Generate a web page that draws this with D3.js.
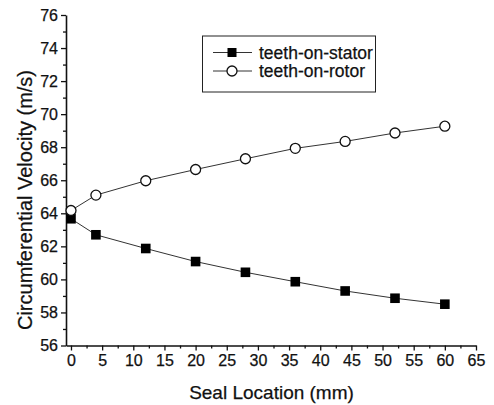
<!DOCTYPE html>
<html>
<head>
<meta charset="utf-8">
<script src="https://cdn.jsdelivr.net/npm/d3@7"></script>
<style>
  body { margin: 0; background: #fff; }
  svg text { font-family: "Liberation Sans", Arial, sans-serif; fill: #111; stroke: #111; stroke-width: 0.25px; }
</style>
</head>
<body>
<svg id="chart" width="494" height="405"></svg>
<script>
// data
var seal_location = [0, 4, 12, 20, 28, 36, 44, 52, 60];
var teeth_on_stator = [63.67, 62.7, 61.87, 61.08, 60.43, 59.86, 59.3, 58.86, 58.5];
var teeth_on_rotor = [64.17, 65.1, 65.97, 66.65, 67.3, 67.93, 68.35, 68.86, 69.27];
var x_ticks = [0, 5, 10, 15, 20, 25, 30, 35, 40, 45, 50, 55, 60, 65];
var y_ticks = [56, 58, 60, 62, 64, 66, 68, 70, 72, 74, 76];

var svg = d3.select("#chart");

var x = d3.scaleLinear().domain([-0.8, 65]).range([66, 476]);
var y = d3.scaleLinear().domain([56, 76]).range([345.5, 15]);

// minor ticks
var x_minor = x_ticks.slice(0, -1).map(function(d) { return d + 2.5; });
var y_minor = y_ticks.slice(0, -1).map(function(d) { return d + 1; });

svg.append("g")
  .attr("transform", "translate(0," + y(56) + ")")
  .call(d3.axisBottom(x).tickValues(x_minor).tickSize(3).tickFormat(""))
  .call(function(g) { g.select(".domain").remove(); });

svg.append("g")
  .attr("transform", "translate(" + x.range()[0] + ",0)")
  .call(d3.axisLeft(y).tickValues(y_minor).tickSize(3).tickFormat(""))
  .call(function(g) { g.select(".domain").remove(); });

var xAxis = svg.append("g")
  .attr("transform", "translate(0," + y(56) + ")")
  .call(d3.axisBottom(x).tickValues(x_ticks).tickSize(5).tickSizeOuter(0).tickPadding(4));

var yAxis = svg.append("g")
  .attr("transform", "translate(" + x.range()[0] + ",0)")
  .call(d3.axisLeft(y).tickValues(y_ticks).tickSize(5).tickSizeOuter(0).tickPadding(3));

svg.selectAll(".tick line").attr("stroke", "#111").attr("stroke-width", 1.3);
svg.selectAll(".domain").attr("stroke", "#111").attr("stroke-width", 1.6);
svg.selectAll(".tick text").style("font-size", "16px").attr("fill", "#111");

// axis titles
svg.append("text")
  .attr("x", (x(0) + x(65)) / 2 - 2)
  .attr("y", 399)
  .attr("text-anchor", "middle")
  .style("font-size", "19px")
  .text("Seal Location (mm)");

svg.append("text")
  .attr("transform", "translate(32," + 200 + ") rotate(-90)")
  .attr("text-anchor", "middle")
  .style("font-size", "20px")
  .text("Circumferential Velocity (m/s)");

// series
var line = d3.line()
  .x(function(d) { return x(d[0]); })
  .y(function(d) { return y(d[1]); });

var stator = d3.zip(seal_location, teeth_on_stator);
var rotor = d3.zip(seal_location, teeth_on_rotor);

svg.append("path").datum(stator)
  .attr("d", line).attr("fill", "none").attr("stroke", "#333").attr("stroke-width", 1);
svg.append("path").datum(rotor)
  .attr("d", line).attr("fill", "none").attr("stroke", "#333").attr("stroke-width", 1);

svg.selectAll(".sq").data(stator).enter().append("rect")
  .attr("class", "sq")
  .attr("x", function(d) { return x(d[0]) - 4.8; })
  .attr("y", function(d) { return y(d[1]) - 4.8; })
  .attr("width", 9.6).attr("height", 9.6)
  .attr("fill", "#000");

svg.selectAll(".ci").data(rotor).enter().append("circle")
  .attr("class", "ci")
  .attr("cx", function(d) { return x(d[0]); })
  .attr("cy", function(d) { return y(d[1]); })
  .attr("r", 5)
  .attr("fill", "#fff").attr("stroke", "#111").attr("stroke-width", 1.3);

// legend
var legend = svg.append("g");
legend.append("rect")
  .attr("x", 202.5).attr("y", 36).attr("width", 173).attr("height", 56)
  .attr("fill", "#fff").attr("stroke", "#222").attr("stroke-width", 1);

var rows = [
  { name: "teeth-on-stator", y: 52.5, shape: "square" },
  { name: "teeth-on-rotor", y: 71, shape: "circle" }
];
rows.forEach(function(r) {
  legend.append("line")
    .attr("x1", 213).attr("x2", 252).attr("y1", r.y).attr("y2", r.y)
    .attr("stroke", "#333").attr("stroke-width", 1);
  if (r.shape == "square") {
    legend.append("rect").attr("x", 232 - 4.5).attr("y", r.y - 4.5)
      .attr("width", 9).attr("height", 9).attr("fill", "#000");
  } else {
    legend.append("circle").attr("cx", 232).attr("cy", r.y).attr("r", 5)
      .attr("fill", "#fff").attr("stroke", "#111").attr("stroke-width", 1.3);
  }
  legend.append("text")
    .attr("x", 259).attr("y", r.y + 6)
    .style("font-size", "17.5px")
    .text(r.name);
});
</script>
</body>
</html>
